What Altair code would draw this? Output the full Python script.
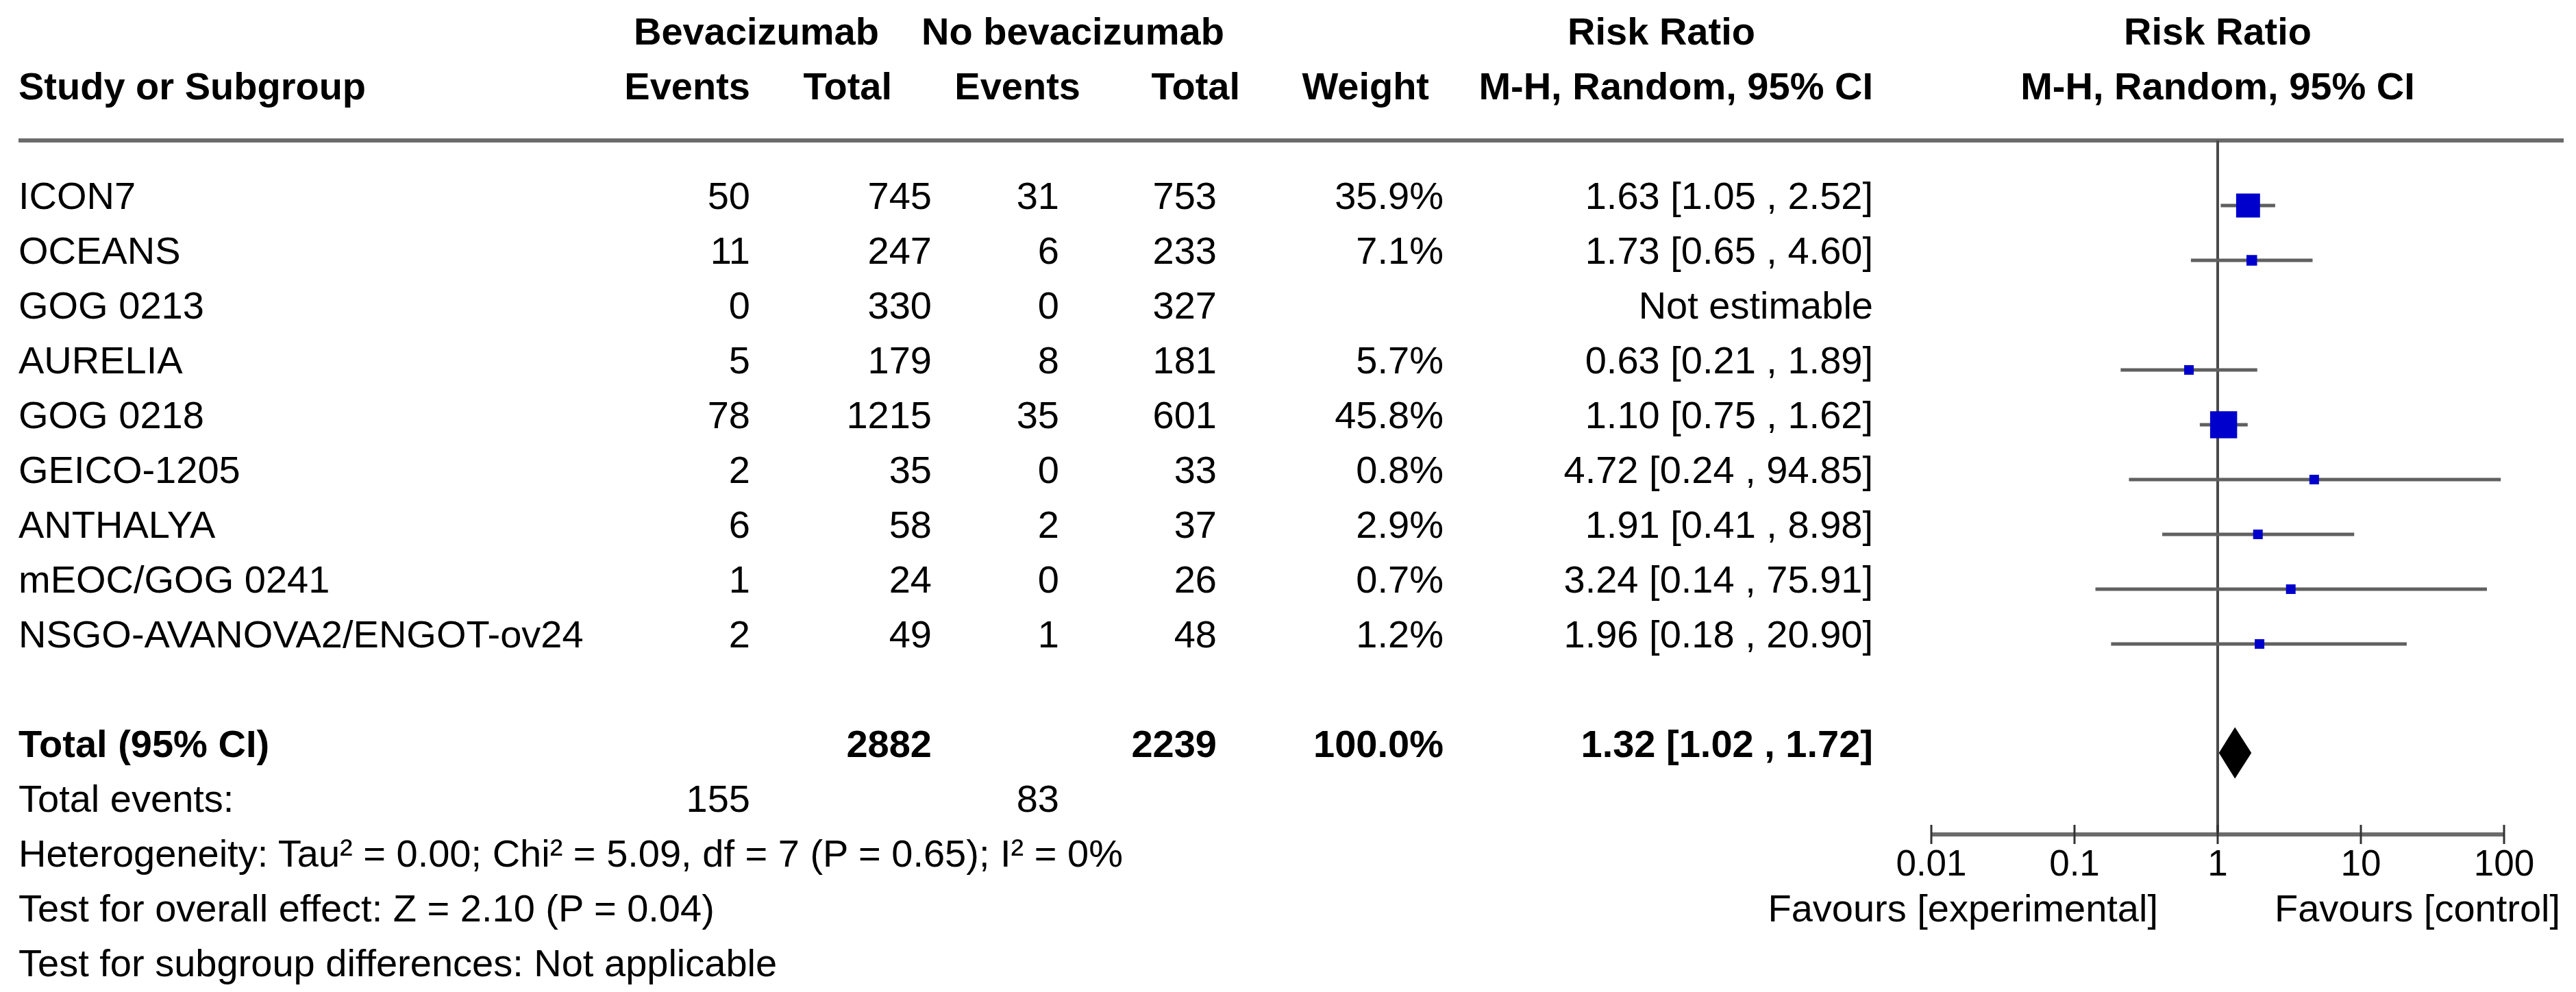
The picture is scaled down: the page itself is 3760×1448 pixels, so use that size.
import altair as alt
import pandas as pd

# ---------------- data ----------------
studies = ["ICON7", "OCEANS", "GOG 0213", "AURELIA", "GOG 0218", "GEICO-1205",
           "ANTHALYA", "mEOC/GOG 0241", "NSGO-AVANOVA2/ENGOT-ov24"]
bev_events = [50, 11, 0, 5, 78, 2, 6, 1, 2]
bev_total = [745, 247, 330, 179, 1215, 35, 58, 24, 49]
ctl_events = [31, 6, 0, 8, 35, 0, 2, 0, 1]
ctl_total = [753, 233, 327, 181, 601, 33, 37, 26, 48]
weights = [35.9, 7.1, None, 5.7, 45.8, 0.8, 2.9, 0.7, 1.2]
rr = [1.63, 1.73, None, 0.63, 1.10, 4.72, 1.91, 3.24, 1.96]
rr_lo = [1.05, 0.65, None, 0.21, 0.75, 0.24, 0.41, 0.14, 0.18]
rr_hi = [2.52, 4.60, None, 1.89, 1.62, 94.85, 8.98, 75.91, 20.90]

total_bev = 2882
total_ctl = 2239
total_weight = 100.0
total_rr, total_lo, total_hi = 1.32, 1.02, 1.72
events_bev = 155
events_ctl = 83

footer_lines = [
    "Heterogeneity: Tau\u00b2 = 0.00; Chi\u00b2 = 5.09, df = 7 (P = 0.65); I\u00b2 = 0%",
    "Test for overall effect: Z = 2.10 (P = 0.04)",
    "Test for subgroup differences: Not applicable",
]
tick_values = [0.01, 0.1, 1, 10, 100]
tick_labels = ["0.01", "0.1", "1", "10", "100"]
favours_left = "Favours [experimental]"
favours_right = "Favours [control]"

# ---------------- layout ----------------
W, H = 3744, 1432
OFF = 8
FONT = "Liberation Sans"
FS = 56


def X(ref):
    return ref - OFF


anchors = {
    "study": (27, "left"),
    "bev_e": (1095, "right"),
    "bev_t": (1360, "right"),
    "ctl_e": (1546, "right"),
    "ctl_t": (1776, "right"),
    "weight": (2107, "right"),
    "rr": (2734, "right"),
    "bev_t_head": (1302, "right"),
    "ctl_e_head": (1577, "right"),
    "ctl_t_head": (1810, "right"),
    "weight_head": (2086, "right"),
    "bev_head": (1104, "center"),
    "ctl_head": (1566, "center"),
    "rr_head": (2425, "center"),
    "plot_head": (3237, "center"),
}

ROW_HEAD1, ROW_HEAD2, ROW_RULE = -3.0, -2.0, -1.25
ROW_TOTAL, ROW_EVENTS = 10, 11
ROW_AXIS = 11.4125
ROW_TICKLAB = 12.1625
ROW_FAVOURS = 13.0

yscale = alt.Scale(domain=[-3.7125, 14.1875], reverse=True, nice=False, zero=False)
xscale = alt.Scale(type="log", domain=[0.01, 100], range=[X(2819), X(3655)], nice=False)

# ---------------- table cells ----------------
cells = []


def add(row, col, text, bold=False):
    cells.append({"row": row, "col": col, "text": text, "bold": bold})


add(ROW_HEAD1, "bev_head", "Bevacizumab", True)
add(ROW_HEAD1, "ctl_head", "No bevacizumab", True)
add(ROW_HEAD1, "rr_head", "Risk Ratio", True)
add(ROW_HEAD1, "plot_head", "Risk Ratio", True)
for col, t in [("study", "Study or Subgroup"), ("bev_e", "Events"), ("bev_t_head", "Total"),
               ("ctl_e_head", "Events"), ("ctl_t_head", "Total"), ("weight_head", "Weight"),
               ("rr", "M-H, Random, 95% CI"), ("plot_head", "M-H, Random, 95% CI")]:
    add(ROW_HEAD2, col, t, True)

for i, s in enumerate(studies):
    add(i, "study", s)
    add(i, "bev_e", str(bev_events[i]))
    add(i, "bev_t", str(bev_total[i]))
    add(i, "ctl_e", str(ctl_events[i]))
    add(i, "ctl_t", str(ctl_total[i]))
    if weights[i] is not None:
        add(i, "weight", f"{weights[i]:.1f}%")
        add(i, "rr", f"{rr[i]:.2f} [{rr_lo[i]:.2f} , {rr_hi[i]:.2f}]")
    else:
        add(i, "rr", "Not estimable")

add(ROW_TOTAL, "study", "Total (95% CI)", True)
add(ROW_TOTAL, "bev_t", str(total_bev), True)
add(ROW_TOTAL, "ctl_t", str(total_ctl), True)
add(ROW_TOTAL, "weight", f"{total_weight:.1f}%", True)
add(ROW_TOTAL, "rr", f"{total_rr:.2f} [{total_lo:.2f} , {total_hi:.2f}]", True)
add(ROW_EVENTS, "study", "Total events:")
add(ROW_EVENTS, "bev_e", str(events_bev))
add(ROW_EVENTS, "ctl_e", str(events_ctl))
for k, line in enumerate(footer_lines):
    add(ROW_EVENTS + 1 + k, "study", line)

cells_df = pd.DataFrame(cells)

layers = []
for col, (xref, align) in anchors.items():
    for bold in (False, True):
        sub = cells_df[(cells_df.col == col) & (cells_df.bold == bold)]
        if sub.empty:
            continue
        layers.append(
            alt.Chart(sub).mark_text(
                align=align, baseline="alphabetic", font=FONT, fontSize=FS,
                fontWeight="bold" if bold else "normal", color="black"
            ).encode(
                x=alt.value(X(xref)),
                y=alt.Y("row:Q", scale=yscale, axis=None),
                text="text:N",
            )
        )

# ---------------- forest plot ----------------
forest_df = pd.DataFrame({
    "study": studies, "rr": rr, "lo": rr_lo, "hi": rr_hi, "weight": weights,
    "row": list(range(len(studies))),
}).dropna()
forest_df["rowm"] = forest_df["row"] - 0.0625

rule_df = pd.DataFrame({"row": [ROW_RULE]})
header_rule = alt.Chart(rule_df).mark_rule(color="#6b6b6b", strokeWidth=6).encode(
    x=alt.value(X(27)), x2=alt.value(X(3742)),
    y=alt.Y("row:Q", scale=yscale, axis=None),
)

null_df = pd.DataFrame({"x": [1.0], "y1": [ROW_RULE], "y2": [ROW_AXIS]})
null_line = alt.Chart(null_df).mark_rule(color="#4a4a4a", strokeWidth=4).encode(
    x=alt.X("x:Q", scale=xscale, axis=None),
    y=alt.Y("y1:Q", scale=yscale, axis=None), y2="y2:Q",
)

ci = alt.Chart(forest_df).mark_rule(color="#606060", strokeWidth=5).encode(
    x=alt.X("lo:Q", scale=xscale, axis=None), x2="hi:Q",
    y=alt.Y("rowm:Q", scale=yscale, axis=None),
)

boxes = alt.Chart(forest_df).mark_square(color="#0000CC", opacity=1, filled=True).encode(
    x=alt.X("rr:Q", scale=xscale, axis=None),
    y=alt.Y("rowm:Q", scale=yscale, axis=None),
    size=alt.Size("weight:Q",
                  scale=alt.Scale(domain=[5.76, 50], range=[196, 1700], clamp=True, zero=False),
                  legend=None),
)

diamond_df = pd.DataFrame({"x": [total_lo, total_rr, total_hi], "part": [0, 1, 0]})
diamond = alt.Chart(diamond_df).transform_calculate(
    ytop=f"{ROW_TOTAL - 0.075} - datum.part * 0.47",
    ybot=f"{ROW_TOTAL - 0.075} + datum.part * 0.47",
).mark_area(color="black", opacity=1).encode(
    x=alt.X("x:Q", scale=xscale, axis=None),
    y=alt.Y("ytop:Q", scale=yscale, axis=None), y2="ybot:Q",
)

axis_df = pd.DataFrame({"x1": [tick_values[0]], "x2": [tick_values[-1]], "row": [ROW_AXIS]})
axis_line = alt.Chart(axis_df).mark_rule(color="#6b6b6b", strokeWidth=6).encode(
    x=alt.X("x1:Q", scale=xscale, axis=None), x2="x2:Q",
    y=alt.Y("row:Q", scale=yscale, axis=None),
)

ticks_df = pd.DataFrame({"x": tick_values, "label": tick_labels})
ticks = alt.Chart(ticks_df).transform_calculate(
    y1=f"{ROW_AXIS - 0.175}", y2=f"{ROW_AXIS + 0.175}"
).mark_rule(color="#333333", strokeWidth=3).encode(
    x=alt.X("x:Q", scale=xscale, axis=None),
    y=alt.Y("y1:Q", scale=yscale, axis=None), y2="y2:Q",
)
tick_text = alt.Chart(ticks_df).transform_calculate(
    y=f"{ROW_TICKLAB}"
).mark_text(font=FONT, fontSize=53, baseline="alphabetic", align="center", color="black").encode(
    x=alt.X("x:Q", scale=xscale, axis=None),
    y=alt.Y("y:Q", scale=yscale, axis=None),
    text="label:N",
)

fav_df = pd.DataFrame({"row": [ROW_FAVOURS], "left": [favours_left], "right": [favours_right]})
fav_l = alt.Chart(fav_df).mark_text(font=FONT, fontSize=FS, align="right", baseline="alphabetic",
                                    color="black").encode(
    x=alt.value(X(3150)), y=alt.Y("row:Q", scale=yscale, axis=None), text="left:N")
fav_r = alt.Chart(fav_df).mark_text(font=FONT, fontSize=FS, align="left", baseline="alphabetic",
                                    color="black").encode(
    x=alt.value(X(3320)), y=alt.Y("row:Q", scale=yscale, axis=None), text="right:N")

chart = alt.layer(
    header_rule, null_line, ci, boxes, diamond, axis_line, ticks, tick_text, fav_l, fav_r, *layers
).properties(
    width=W, height=H, padding=0,
    autosize=alt.AutoSizeParams(type="none"),
    background="white",
).configure_view(stroke=None)

chart.save("out.html", embed_options={"renderer": "svg", "actions": False})
